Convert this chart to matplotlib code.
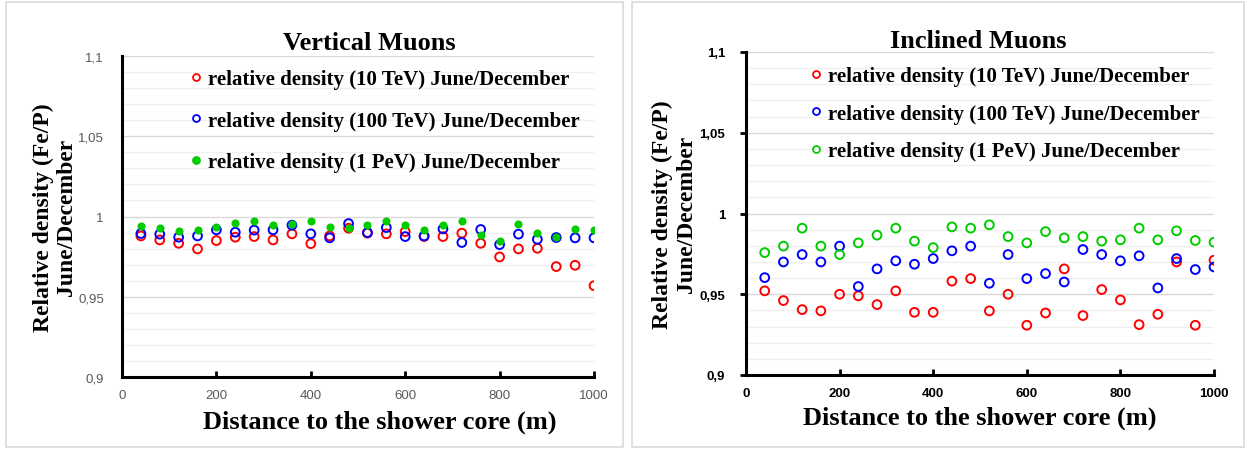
import matplotlib
matplotlib.use("Agg")
import matplotlib.pyplot as plt
from matplotlib.lines import Line2D
from matplotlib.patches import Rectangle
from matplotlib.ticker import FixedLocator, MultipleLocator, FuncFormatter

# distance to the shower core (m)
distance = [40, 80, 120, 160, 200, 240, 280, 320, 360, 400, 440, 480, 520,
            560, 600, 640, 680, 720, 760, 800, 840, 880, 920, 960, 1000]

# vertical muons
vert_10tev = [0.9879, 0.9854, 0.9833, 0.9798, 0.9850, 0.9871, 0.9875, 0.9854,
              0.9892, 0.9831, 0.9879, 0.9927, 0.9896, 0.9892, 0.9906, 0.9875,
              0.9875, 0.9896, 0.9833, 0.9748, 0.9798, 0.9802, 0.9688, 0.9696,
              0.9569]
vert_100tev = [0.9894, 0.9890, 0.9871, 0.9879, 0.9917, 0.9902, 0.9915, 0.9917,
               0.9946, 0.9892, 0.9867, 0.9956, 0.9900, 0.9931, 0.9875, 0.9879,
               0.9923, 0.9838, 0.9919, 0.9825, 0.9890, 0.9858, 0.9869, 0.9867,
               0.9867]
vert_1pev = [0.9942, 0.9931, 0.9908, 0.9917, 0.9935, 0.9960, 0.9969, 0.9948,
             0.9952, 0.9969, 0.9935, 0.9931, 0.9944, 0.9969, 0.9948, 0.9913,
             0.9948, 0.9969, 0.9883, 0.9850, 0.9956, 0.9900, 0.9873, 0.9921,
             0.9915]

# inclined muons
incl_10tev = [0.9521, 0.9461, 0.9405, 0.9397, 0.9500, 0.9490, 0.9436, 0.9521,
              0.9388, 0.9388, 0.9581, 0.9597, 0.9397, 0.9500, 0.9308, 0.9384,
              0.9657, 0.9368, 0.9529, 0.9465, 0.9312, 0.9376, 0.9700, 0.9308,
              0.9711]
incl_100tev = [0.9603, 0.9700, 0.9746, 0.9700, 0.9798, 0.9548, 0.9657, 0.9707,
               0.9686, 0.9721, 0.9769, 0.9798, 0.9568, 0.9746, 0.9597, 0.9628,
               0.9576, 0.9777, 0.9746, 0.9707, 0.9738, 0.9539, 0.9721, 0.9653,
               0.9669]
incl_1pev = [0.9758, 0.9798, 0.9909, 0.9798, 0.9746, 0.9818, 0.9866, 0.9909,
             0.9829, 0.9789, 0.9917, 0.9909, 0.9930, 0.9857, 0.9818, 0.9888,
             0.9849, 0.9857, 0.9829, 0.9837, 0.9909, 0.9837, 0.9893, 0.9833,
             0.9822]

labels = ["relative density (10 TeV) June/December",
          "relative density (100 TeV) June/December",
          "relative density (1 PeV) June/December"]

RED, BLUE, GREEN = "#ff0000", "#0000ff", "#00cc00"
SERIF = "Liberation Serif"

W, H = 1247, 452
fig = plt.figure(figsize=(W / 100, H / 100), dpi=100)


def fx(px):
    return px / W


def fy(py):
    return 1 - py / H


# light grey panel frames
for x0, x1 in [(6, 623), (632, 1244)]:
    fig.add_artist(Rectangle((fx(x0), fy(448)), fx(x1 - x0), (448 - 3) / H,
                             transform=fig.transFigure, fill=False,
                             edgecolor="#d9d9d9", linewidth=1.2))


def comma(v, _):
    s = f"{v:.2f}".rstrip("0").rstrip(".")
    return s.replace(".", ",")


def setup(ax, tick_color, tick_weight, yticks_out):
    ax.set_xlim(0, 1000)
    ax.set_ylim(0.9, 1.1)
    ax.xaxis.set_major_locator(MultipleLocator(200))
    ax.yaxis.set_major_locator(FixedLocator([0.9, 0.95, 1.0, 1.05, 1.1]))
    ax.yaxis.set_minor_locator(MultipleLocator(0.01))
    ax.yaxis.set_major_formatter(FuncFormatter(comma))
    ax.grid(axis="y", which="minor", color="#f0f0f0", linewidth=1.0)
    ax.grid(axis="y", which="major", color="#d9d9d9", linewidth=1.0)
    ax.set_axisbelow(True)
    for s in ["top", "right"]:
        ax.spines[s].set_visible(False)
    for s in ["left", "bottom"]:
        ax.spines[s].set_linewidth(2.2)
        ax.spines[s].set_color("black")
    ax.tick_params(axis="x", direction="in", length=4, width=2, pad=9,
                   labelsize=9.5, labelcolor=tick_color)
    ax.tick_params(axis="y", direction="out", length=4 if yticks_out else 0,
                   width=2, pad=11 if yticks_out else 13, labelsize=9.5,
                   labelcolor=tick_color)
    ax.tick_params(axis="y", which="minor", length=0)
    for t in ax.get_xticklabels() + ax.get_yticklabels():
        t.set_fontweight(tick_weight)
        t.set_fontfamily("Liberation Sans")


def draw(ax, series, green_filled, title, title_xy, legend_anchor, spacing,
         xlabel_xy, ylabel_x):
    r, b, g = series
    ax.scatter(distance, r, s=40, facecolors="none", edgecolors=RED,
               linewidths=1.4, zorder=3)
    ax.scatter(distance, b, s=40, facecolors="none", edgecolors=BLUE,
               linewidths=1.4, zorder=3)
    if green_filled:
        ax.scatter(distance, g, s=34, color=GREEN, linewidths=0, zorder=3)
    else:
        ax.scatter(distance, g, s=40, facecolors="none", edgecolors=GREEN,
                   linewidths=1.4, zorder=3)
    handles = [
        Line2D([], [], ls="none", marker="o", ms=5, mfc="none", mec=RED, mew=1.3),
        Line2D([], [], ls="none", marker="o", ms=5, mfc="none", mec=BLUE, mew=1.3),
        Line2D([], [], ls="none", marker="o", ms=5,
               mfc=GREEN if green_filled else "none", mec=GREEN, mew=1.3),
    ]
    ax.legend(handles, labels, loc="upper left", bbox_to_anchor=legend_anchor,
              frameon=False, handlelength=0.6, handletextpad=0.3,
              labelspacing=spacing, borderaxespad=0,
              prop={"family": SERIF, "weight": "bold", "size": 15})
    ax.text(title_xy[0], title_xy[1], title, transform=ax.transAxes,
            ha="center", va="center", fontfamily=SERIF, fontweight="bold",
            fontsize=19)
    ax.set_xlabel("Distance to the shower core (m)", fontfamily=SERIF,
                  fontweight="bold", fontsize=19)
    ax.xaxis.set_label_coords(*xlabel_xy)
    ax.set_ylabel("Relative density (Fe/P)\nJune/December", fontfamily=SERIF,
                  fontweight="bold", fontsize=17, linespacing=1.15)
    ax.yaxis.set_label_coords(ylabel_x, 0.5)


ax1 = fig.add_axes([fx(122), fy(378), fx(594 - 122), (378 - 57) / H])
draw(ax1, (vert_10tev, vert_100tev, vert_1pev), True, "Vertical Muons",
     (0.523, 1.0436), (0.125, 0.984), 1.02, (0.547, -0.1), -0.095)
setup(ax1, "#595959", "normal", False)

ax2 = fig.add_axes([fx(746), fy(376), fx(1214 - 746), (376 - 53) / H])
draw(ax2, (incl_10tev, incl_100tev, incl_1pev), False, "Inclined Muons",
     (0.496, 1.037), (0.1175, 0.981), 0.83, (0.5, -0.095), -0.105)
setup(ax2, "black", "bold", True)

fig.savefig("out.png", dpi=100, facecolor="white")
